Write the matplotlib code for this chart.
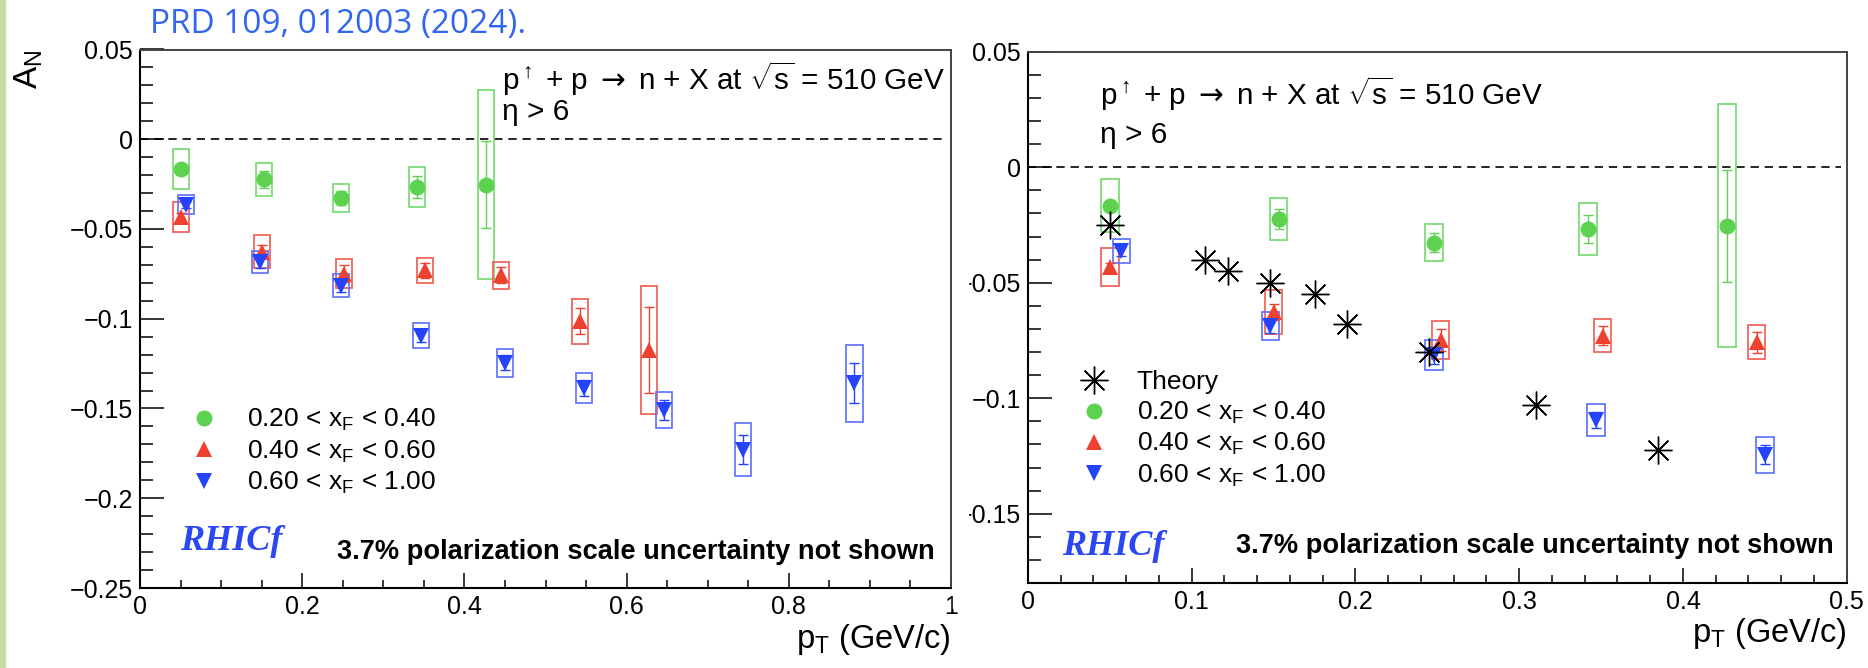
"""
RHICf neutron A_N vs pT, two panels (data only / data + theory)
"""
import numpy as np
import matplotlib.pyplot as plt
from matplotlib.patches import Rectangle
from matplotlib.ticker import MultipleLocator, FuncFormatter

plt.rcParams['font.family'] = ['Liberation Sans', 'DejaVu Sans']
plt.rcParams['mathtext.fontset'] = 'custom'
plt.rcParams['mathtext.rm'] = 'Liberation Sans'
plt.rcParams['mathtext.it'] = 'Liberation Sans:italic'
plt.rcParams['mathtext.bf'] = 'Liberation Sans:bold'
plt.rcParams['mathtext.sf'] = 'DejaVu Sans'

# 0.20 < xF < 0.40
pt_g = [0.050, 0.153, 0.248, 0.342, 0.427]
an_g = [-0.0166, -0.0224, -0.0327, -0.0267, -0.0253]
stat_g = [0.0020, 0.0045, 0.0040, 0.0062, 0.0243]
sys_g = [0.0113, 0.0092, 0.0079, 0.0112, 0.0527]

# 0.40 < xF < 0.60
pt_r = [0.050, 0.150, 0.252, 0.351, 0.445, 0.542, 0.628]
an_r = [-0.0433, -0.0626, -0.0748, -0.0729, -0.0758, -0.1014, -0.1173]
stat_r = [0.0020, 0.0035, 0.0047, 0.0042, 0.0045, 0.0072, 0.0238]
sys_r = [0.0082, 0.0094, 0.0083, 0.0070, 0.0074, 0.0124, 0.0357]

# 0.60 < xF < 1.00
pt_b = [0.057, 0.148, 0.248, 0.347, 0.450, 0.548, 0.646, 0.744, 0.881]
an_b = [-0.0364, -0.0686, -0.0815, -0.1094, -0.1245, -0.1388, -0.1508, -0.1729, -0.1360]
stat_b = [0.0020, 0.0030, 0.0035, 0.0036, 0.0041, 0.0045, 0.0055, 0.0080, 0.0112]
sys_b = [0.0052, 0.0061, 0.0065, 0.0070, 0.0078, 0.0084, 0.0102, 0.0147, 0.0214]

# theory curve points
th_pt = [0.050, 0.108, 0.122, 0.148, 0.175, 0.195, 0.245, 0.310, 0.385]
th_an = [-0.025, -0.040, -0.045, -0.050, -0.055, -0.068, -0.080, -0.103, -0.1226]

labels = [r'0.20 < x$_{\mathregular{F}}$ < 0.40',
          r'0.40 < x$_{\mathregular{F}}$ < 0.60',
          r'0.60 < x$_{\mathregular{F}}$ < 1.00']
reaction = r'p$^{\uparrow}$ + p $\mathsf{\rightarrow}$ n + X at $\sqrt{\mathregular{s}}$ = 510 GeV'

GREEN, GREEN_BOX = '#5fd150', '#7ddc78'
RED, RED_BOX = '#ee4130', '#f0675a'
BLUE, BLUE_BOX = '#2443fb', '#6678ff'
RHIC_BLUE = '#2b47f2'

W, H = 1868, 668


def fmt(v, pos):
	if abs(v) < 1e-9:
		return '0'
	return f"{round(v, 3):g}".replace('-', '\u2212')


def draw_series(ax, pt, an, stat, sys, box_hw, color, box_color, marker, label):
	pt = np.array(pt); an = np.array(an); sys = np.array(sys)
	ax.bar(pt, 2*sys, width=2*box_hw, bottom=an-sys, fill=False,
		edgecolor=box_color, linewidth=1.3, zorder=2)
	ax.errorbar(pt, an, yerr=stat, fmt='none', ecolor=color, elinewidth=1.0,
		capsize=3.6, capthick=1.0, zorder=3)
	h, = ax.plot(pt, an, marker, color=color, ms=11.5, mew=0, ls='none',
		label=label, zorder=4)
	return h


def setup_axes(ax, xmax, ymin, xmaj, xmin_step):
	ax.set_xlim(0, xmax)
	ax.set_ylim(ymin, 0.05)
	ax.xaxis.set_major_locator(MultipleLocator(xmaj))
	ax.xaxis.set_minor_locator(MultipleLocator(xmin_step))
	ax.yaxis.set_major_locator(MultipleLocator(0.05))
	ax.yaxis.set_minor_locator(MultipleLocator(0.01))
	ax.xaxis.set_major_formatter(FuncFormatter(fmt))
	ax.yaxis.set_major_formatter(FuncFormatter(fmt))
	ax.tick_params(axis='x', which='major', direction='in', length=10.8, width=1.1,
		labelsize=18, pad=5)
	ax.tick_params(axis='x', which='minor', direction='in', length=5.6, width=1.1)
	ax.tick_params(axis='y', which='major', direction='in', length=17.3, width=1.1,
		labelsize=18, pad=5)
	ax.tick_params(axis='y', which='minor', direction='in', length=9, width=1.1)
	for s in ['left', 'bottom']:
		ax.spines[s].set_linewidth(1.5)
		ax.spines[s].set_color('black')
	for s in ['top', 'right']:
		ax.spines[s].set_linewidth(1.4)
		ax.spines[s].set_color('#444444')
	ax.axhline(0, xmax=0.993, color='black', lw=1.2, ls=(0, (5, 3.5)), zorder=1)
	ax.set_xlabel(r'p$_{\mathregular{T}}$ (GeV/c)', fontsize=23.5, ha='right')
	ax.xaxis.set_label_coords(1.0, -0.063)
	ax.xaxis.label.set_va('top')


fig = plt.figure(figsize=(W/100, H/100), dpi=100)
fig.add_artist(Rectangle((0, 0), 5/W, 1, transform=fig.transFigure,
	color='#c8dba0', zorder=0))

ax1 = fig.add_axes([140/W, (H-588)/H, (951-140)/W, (588-49.5)/H])
ax2 = fig.add_axes([1028/W, (H-583)/H, (1846.7-1028)/W, (583-51.7)/H])

# left panel
setup_axes(ax1, 1.0, -0.25, 0.2, 0.05)
hg = draw_series(ax1, pt_g, an_g, stat_g, sys_g, 0.0099, GREEN, GREEN_BOX, 'o', labels[0])
hr = draw_series(ax1, pt_r, an_r, stat_r, sys_r, 0.0099, RED, RED_BOX, '^', labels[1])
hb = draw_series(ax1, pt_b, an_b, stat_b, sys_b, 0.0099, BLUE, BLUE_BOX, 'v', labels[2])
ax1.set_ylabel(r'A$_{\mathregular{N}}$', fontsize=24, loc='top')
ax1.yaxis.set_label_coords(-0.117, 1.0)
ax1.legend(handles=[hg, hr, hb], loc='upper left', bbox_to_anchor=(0.0573, 0.336),
	frameon=False, fontsize=19, borderpad=0, borderaxespad=0, handlelength=1.35,
	handletextpad=0.95, labelspacing=0.2)
ax1.text(0.446, 0.925, reaction, transform=ax1.transAxes, fontsize=21.3, va='baseline')
ax1.text(0.446, 0.869, '\u03b7 > 6', transform=ax1.transAxes, fontsize=21.5, va='baseline')
ax1.text(0.049, 0.0706, 'RHICf', transform=ax1.transAxes, fontsize=26, va='baseline',
	family='Liberation Serif', weight='bold', style='italic', color=RHIC_BLUE)
ax1.text(0.2425, 0.0539, '3.7% polarization scale uncertainty not shown',
	transform=ax1.transAxes, fontsize=19.6, weight='bold', va='baseline')

# right panel, zoomed in and with theory
setup_axes(ax2, 0.5, -0.18, 0.1, 0.02)
draw_series(ax2, pt_g, an_g, stat_g, sys_g, 0.0053, GREEN, GREEN_BOX, 'o', labels[0])
draw_series(ax2, pt_r, an_r, stat_r, sys_r, 0.0053, RED, RED_BOX, '^', labels[1])
draw_series(ax2, pt_b, an_b, stat_b, sys_b, 0.0053, BLUE, BLUE_BOX, 'v', labels[2])
ht, = ax2.plot(th_pt, th_an, marker=(8, 2, 0), ms=20, mew=1.0, color='black',
	ls='none', zorder=5)
hd, = ax2.plot(th_pt, th_an, '.', ms=4, color='black', zorder=5)
ax2.legend(handles=[(ht, hd), hg, hr, hb], labels=['Theory'] + labels,
	loc='upper left', bbox_to_anchor=(0.0584, 0.40), frameon=False, fontsize=19,
	borderpad=0, borderaxespad=0, handlelength=1.35, handletextpad=0.95, labelspacing=0.2)
ax2.text(0.088, 0.90, reaction, transform=ax2.transAxes, fontsize=21.3, va='baseline')
ax2.text(0.088, 0.828, '\u03b7 > 6', transform=ax2.transAxes, fontsize=21.5, va='baseline')
ax2.text(0.041, 0.0527, 'RHICf', transform=ax2.transAxes, fontsize=26, va='baseline',
	family='Liberation Serif', weight='bold', style='italic', color=RHIC_BLUE)
ax2.text(0.254, 0.0565, '3.7% polarization scale uncertainty not shown',
	transform=ax2.transAxes, fontsize=19.6, weight='bold', va='baseline')

# the right figure was cropped in the slide, cutting the leading minus signs
fig.add_artist(Rectangle((953/W, 60/H), 15/W, 500/H, transform=fig.transFigure,
	color='white', zorder=10))

fig.text(150/W, 1 - 33/H, 'PRD 109, 012003 (2024).', fontsize=24, color='#3366ee',
	family=['Open Sans', 'DejaVu Sans'], va='baseline')

fig.savefig('out.png', dpi=100)
plt.close()
